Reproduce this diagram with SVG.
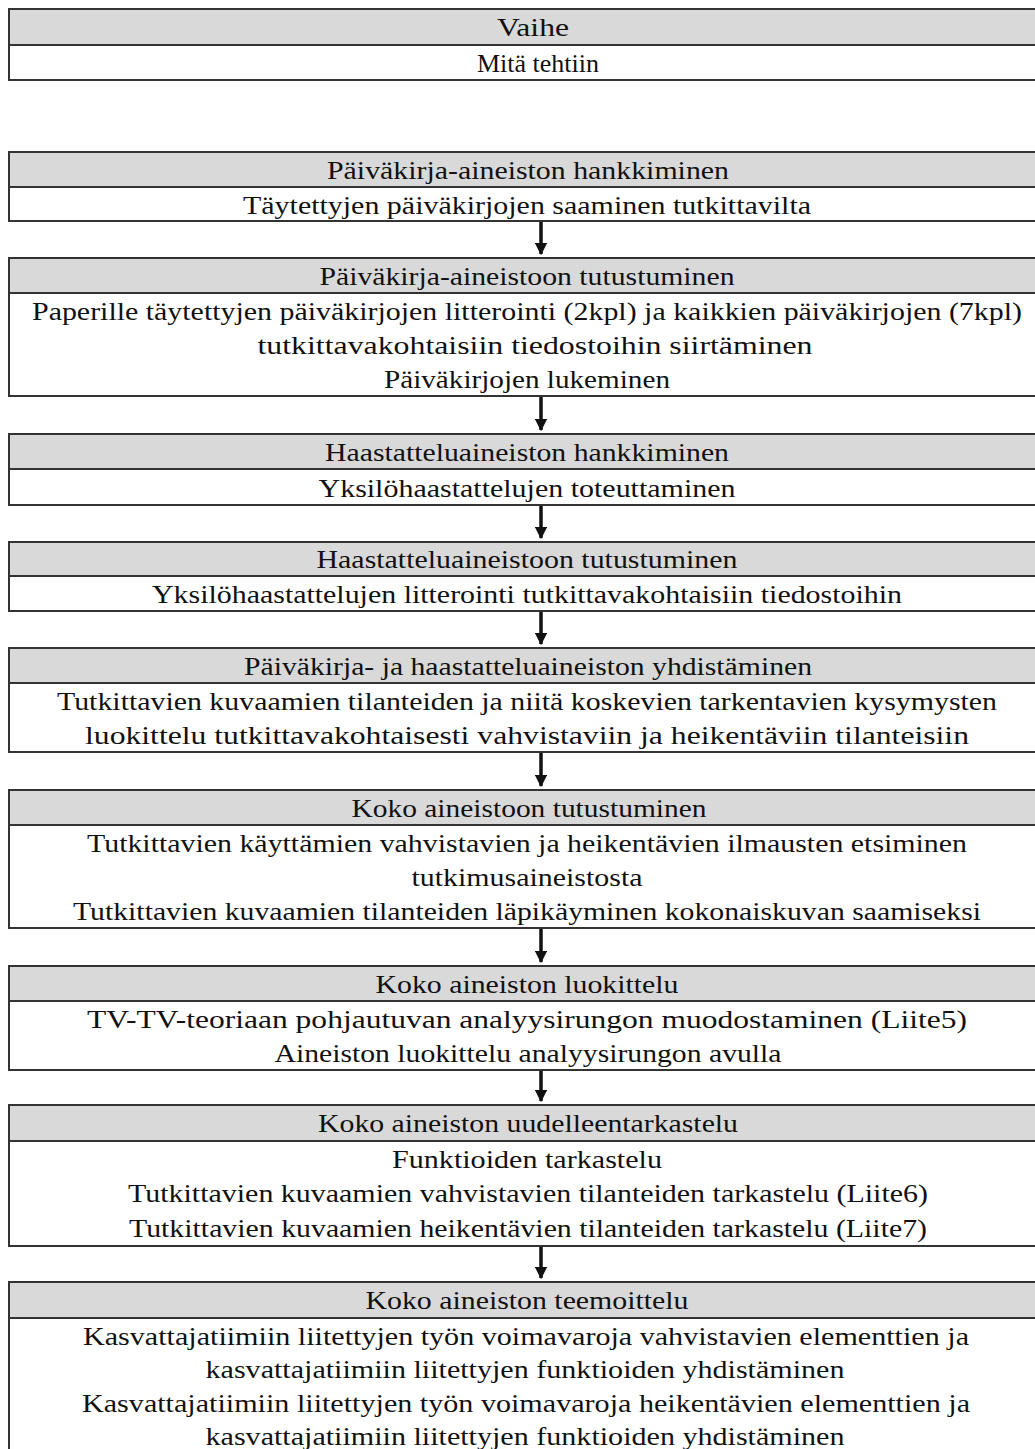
<svg xmlns="http://www.w3.org/2000/svg" width="1035" height="1449" viewBox="0 0 1035 1449">
<defs>
<style>
.h{fill:#d9d9d9;stroke:#333;stroke-width:2}
.b{fill:#fff;stroke:#333;stroke-width:2}
text{font-family:"Liberation Serif","DejaVu Serif",serif;font-size:26px;fill:#111;text-anchor:middle}
.c{stroke:#111;stroke-width:3.5;fill:none}
</style>
<marker id="ah" viewBox="0 0 10 10" refX="9" refY="5" markerWidth="3.6" markerHeight="3.6" markerUnits="strokeWidth" orient="auto"><path d="M0,0 L10,5 L0,10 z" fill="#111"/></marker>
</defs>
<rect width="1035" height="1449" fill="#fff"/>
<g id="n0"><rect class="h" x="9" y="9" width="1040" height="36"/><rect class="b" x="9" y="45" width="1040" height="35"/>
<text x="533" y="36" textLength="72" lengthAdjust="spacingAndGlyphs">Vaihe</text><text x="538" y="72" textLength="122" lengthAdjust="spacingAndGlyphs">Mitä tehtiin</text></g>
<g id="n1"><rect class="h" x="9" y="152" width="1040" height="35"/><rect class="b" x="9" y="187" width="1040" height="34"/>
<text x="528" y="179" textLength="402" lengthAdjust="spacingAndGlyphs">Päiväkirja-aineiston hankkiminen</text><text x="527" y="214" textLength="568" lengthAdjust="spacingAndGlyphs">Täytettyjen päiväkirjojen saaminen tutkittavilta</text></g>
<g id="n2"><rect class="h" x="9" y="258" width="1040" height="35"/><rect class="b" x="9" y="293" width="1040" height="103"/>
<text x="527" y="285" textLength="415" lengthAdjust="spacingAndGlyphs">Päiväkirja-aineistoon tutustuminen</text>
<text x="527" y="320" textLength="990" lengthAdjust="spacingAndGlyphs">Paperille täytettyjen päiväkirjojen litterointi (2kpl) ja kaikkien päiväkirjojen (7kpl)</text>
<text x="535" y="354" textLength="555" lengthAdjust="spacingAndGlyphs">tutkittavakohtaisiin tiedostoihin siirtäminen</text>
<text x="527" y="388" textLength="286" lengthAdjust="spacingAndGlyphs">Päiväkirjojen lukeminen</text></g>
<g id="n3"><rect class="h" x="9" y="434" width="1040" height="35"/><rect class="b" x="9" y="469" width="1040" height="36"/>
<text x="527" y="461" textLength="404" lengthAdjust="spacingAndGlyphs">Haastatteluaineiston hankkiminen</text><text x="527" y="497" textLength="417" lengthAdjust="spacingAndGlyphs">Yksilöhaastattelujen toteuttaminen</text></g>
<g id="n4"><rect class="h" x="9" y="542" width="1040" height="34"/><rect class="b" x="9" y="576" width="1040" height="35"/>
<text x="527" y="568" textLength="421" lengthAdjust="spacingAndGlyphs">Haastatteluaineistoon tutustuminen</text><text x="527" y="603" textLength="750" lengthAdjust="spacingAndGlyphs">Yksilöhaastattelujen litterointi tutkittavakohtaisiin tiedostoihin</text></g>
<g id="n5"><rect class="h" x="9" y="648" width="1040" height="35"/><rect class="b" x="9" y="683" width="1040" height="69"/>
<text x="528" y="675" textLength="568" lengthAdjust="spacingAndGlyphs">Päiväkirja- ja haastatteluaineiston yhdistäminen</text>
<text x="527" y="710" textLength="940" lengthAdjust="spacingAndGlyphs">Tutkittavien kuvaamien tilanteiden ja niitä koskevien tarkentavien kysymysten</text>
<text x="527" y="744" textLength="884" lengthAdjust="spacingAndGlyphs">luokittelu tutkittavakohtaisesti vahvistaviin ja heikentäviin tilanteisiin</text></g>
<g id="n6"><rect class="h" x="9" y="790" width="1040" height="35"/><rect class="b" x="9" y="825" width="1040" height="103"/>
<text x="529" y="817" textLength="355" lengthAdjust="spacingAndGlyphs">Koko aineistoon tutustuminen</text>
<text x="527" y="852" textLength="880" lengthAdjust="spacingAndGlyphs">Tutkittavien käyttämien vahvistavien ja heikentävien ilmausten etsiminen</text>
<text x="527" y="886" textLength="231" lengthAdjust="spacingAndGlyphs">tutkimusaineistosta</text>
<text x="527" y="920" textLength="908" lengthAdjust="spacingAndGlyphs">Tutkittavien kuvaamien tilanteiden läpikäyminen kokonaiskuvan saamiseksi</text></g>
<g id="n7"><rect class="h" x="9" y="966" width="1040" height="35"/><rect class="b" x="9" y="1001" width="1040" height="69"/>
<text x="527" y="993" textLength="303" lengthAdjust="spacingAndGlyphs">Koko aineiston luokittelu</text>
<text x="527" y="1028" textLength="880" lengthAdjust="spacingAndGlyphs">TV-TV-teoriaan pohjautuvan analyysirungon muodostaminen (Liite5)</text>
<text x="528" y="1062" textLength="507" lengthAdjust="spacingAndGlyphs">Aineiston luokittelu analyysirungon avulla</text></g>
<g id="n8"><rect class="h" x="9" y="1105" width="1040" height="36"/><rect class="b" x="9" y="1141" width="1040" height="105"/>
<text x="528" y="1132" textLength="420" lengthAdjust="spacingAndGlyphs">Koko aineiston uudelleentarkastelu</text>
<text x="527" y="1168" textLength="270" lengthAdjust="spacingAndGlyphs">Funktioiden tarkastelu</text>
<text x="528" y="1202" textLength="800" lengthAdjust="spacingAndGlyphs">Tutkittavien kuvaamien vahvistavien tilanteiden tarkastelu (Liite6)</text>
<text x="528" y="1237" textLength="798" lengthAdjust="spacingAndGlyphs">Tutkittavien kuvaamien heikentävien tilanteiden tarkastelu (Liite7)</text></g>
<g id="n9"><rect class="h" x="9" y="1282" width="1040" height="36"/><rect class="b" x="9" y="1318" width="1040" height="150"/>
<text x="527" y="1309" textLength="323" lengthAdjust="spacingAndGlyphs">Koko aineiston teemoittelu</text>
<text x="526" y="1345" textLength="886" lengthAdjust="spacingAndGlyphs">Kasvattajatiimiin liitettyjen työn voimavaroja vahvistavien elementtien ja</text>
<text x="525" y="1378" textLength="639" lengthAdjust="spacingAndGlyphs">kasvattajatiimiin liitettyjen funktioiden yhdistäminen</text>
<text x="526" y="1412" textLength="888" lengthAdjust="spacingAndGlyphs">Kasvattajatiimiin liitettyjen työn voimavaroja heikentävien elementtien ja</text>
<text x="525" y="1445" textLength="639" lengthAdjust="spacingAndGlyphs">kasvattajatiimiin liitettyjen funktioiden yhdistäminen</text></g>
<g id="connectors">
<line class="c" x1="541" y1="222" x2="541" y2="254" marker-end="url(#ah)"/>
<line class="c" x1="541" y1="397" x2="541" y2="430" marker-end="url(#ah)"/>
<line class="c" x1="541" y1="506" x2="541" y2="538" marker-end="url(#ah)"/>
<line class="c" x1="541" y1="612" x2="541" y2="644" marker-end="url(#ah)"/>
<line class="c" x1="541" y1="753" x2="541" y2="786" marker-end="url(#ah)"/>
<line class="c" x1="541" y1="929" x2="541" y2="962" marker-end="url(#ah)"/>
<line class="c" x1="541" y1="1071" x2="541" y2="1101" marker-end="url(#ah)"/>
<line class="c" x1="541" y1="1247" x2="541" y2="1278" marker-end="url(#ah)"/>
</g>
</svg>
